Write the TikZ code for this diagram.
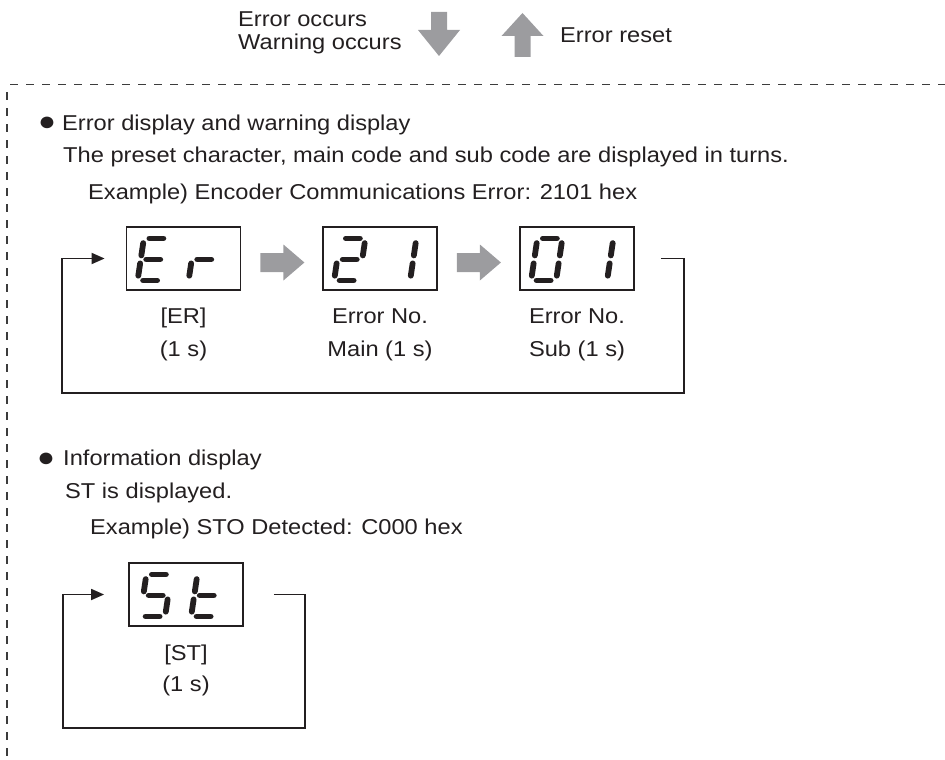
\documentclass[tikz,border=0pt]{standalone}
\usepackage{fontspec}
\setmainfont{Liberation Sans}[FakeStretch=1.1]
\usetikzlibrary{calc,arrows.meta}
\definecolor{ink}{RGB}{35,31,32}
\definecolor{arrowgray}{RGB}{156,156,159}
\definecolor{dashgray}{RGB}{60,60,60}
\tikzset{
  seg/.style={line width=5.8pt, line cap=round, draw=ink},
  dispbox/.style={draw=ink, line width=1.8pt, minimum width=114pt, minimum height=63pt, inner sep=0pt},
  txt/.style={inner sep=0pt, anchor=base west, text=ink, font=\fontsize{21.5}{26}\selectfont},
  ctxt/.style={inner sep=0pt, anchor=base, text=ink, font=\fontsize{21.5}{26}\selectfont},
  bul/.style={inner sep=0pt, anchor=center, text=ink, font=\fontsize{27}{27}\selectfont},
  loopline/.style={draw=ink, line width=1.8pt, -{Triangle[length=13pt,width=11pt]}},
  frameline/.style={draw=dashgray, line width=1.6pt, dash pattern=on 8pt off 8pt},
  blockarrow/.style={fill=arrowgray},
}
\newcommand\svnA{\draw[seg] (5.5,-42) -- (19.5,-42);}
\newcommand\svnG{\draw[seg] (5.5,-21) -- (19.5,-21);}
\newcommand\svnD{\draw[seg] (5.5,0) -- (19.5,0);}
\newcommand\svnF{\draw[seg] (0,-37.3) -- (0,-25);}
\newcommand\svnE{\draw[seg] (0,-17) -- (0,-4.7);}
\newcommand\svnB{\draw[seg] (25,-37.3) -- (25,-25);}
\newcommand\svnC{\draw[seg] (25,-17) -- (25,-4.7);}
\newcommand\svdigit[2]{\begin{scope}[shift={(#1)},xslant=0.15]\foreach \s in {#2}{\csname svn\s\endcsname}\end{scope}}
\newcommand\blockright[1]{\fill[blockarrow] (#1) ++(0,-9.5) -- ++(23,0) -- ++(0,-8.5) -- ++(21,18) -- ++(-21,18) -- ++(0,-8.5) -- ++(-23,0) -- cycle;}
\begin{document}
\begin{tikzpicture}[x=1pt,y=-1pt]
\useasboundingbox (0,0) rectangle (945,760);
% header
\node[txt] (occ1) at (238,27) {Error occurs};
\node[txt] (occ2) at (238,49) {Warning occurs};
\fill[blockarrow] (431,12) -- (447,12) -- (447,30) -- (460,30) -- (439,56) -- (418,30) -- (431,30) -- cycle;
\fill[blockarrow] (514.5,57) -- (530.5,57) -- (530.5,36) -- (543.5,36) -- (522.5,13) -- (501.5,36) -- (514.5,36) -- cycle;
\node[txt] (reset) at (560,43) {Error reset};
% frame
\draw[frameline] (10,84.5) -- (945,84.5);
\draw[frameline] (7,92) -- (7,760);
% section 1
\node[bul] (b1) at (47,124) {●};
\node[txt] (h1) at (62,130) {Error display and warning display};
\node[txt] (d1) at (63,162.5) {The preset character, main code and sub code are displayed in turns.};
\node[txt] (e1) at (88,199.5) {Example) Encoder Communications Error: 2101 hex};
\node[dispbox] (er) at (183.5,258.5) {};
\node[dispbox] (main) at (380,258.5) {};
\node[dispbox] (sub) at (577,258.5) {};
\coordinate (er1) at ($(er.south west)+(12,-10.5)$);
\coordinate (er2) at ($(er1)+(51,0)$);
\coordinate (mn1) at ($(main.south west)+(12,-10.5)$);
\coordinate (mn2) at ($(mn1)+(51,0)$);
\coordinate (sb1) at ($(sub.south west)+(12,-10.5)$);
\coordinate (sb2) at ($(sb1)+(51,0)$);
\svdigit{er1}{A,D,E,F,G}
\svdigit{er2}{E,G}
\svdigit{mn1}{A,B,G,E,D}
\svdigit{mn2}{B,C}
\svdigit{sb1}{A,B,C,D,E,F}
\svdigit{sb2}{B,C}
\blockright{$(er.east)+(19,4)$}
\blockright{$(main.east)+(19,4)$}
\node[ctxt] (erl1) at ($(er.south)+(0,32.5)$) {[ER]};
\node[ctxt] (erl2) at ($(er.south)+(0,65.5)$) {(1 s)};
\node[ctxt] (mnl1) at ($(main.south)+(0,32.5)$) {Error No.};
\node[ctxt] (mnl2) at ($(main.south)+(0,65.5)$) {Main (1 s)};
\node[ctxt] (sbl1) at ($(sub.south)+(0,32.5)$) {Error No.};
\node[ctxt] (sbl2) at ($(sub.south)+(0,65.5)$) {Sub (1 s)};
\coordinate (l1s) at ($(sub.east)+(26,0)$);
\coordinate (l1e) at ($(er.west)+(-21,0)$);
\draw[loopline] (l1s) -- ++(23,0) -- ++(0,134.5) -| ($(er.west)+(-63.5,0)$) -- (l1e);
% section 2
\node[bul] (b2) at (46,460) {●};
\node[txt] (h2) at (63,465.5) {Information display};
\node[txt] (d2) at (65,498) {ST is displayed.};
\node[txt] (e2) at (90,534.5) {Example) STO Detected: C000 hex};
\node[dispbox] (st) at (186,594.5) {};
\coordinate (st1) at ($(st.south west)+(12,-10.5)$);
\coordinate (st2) at ($(st1)+(51,0)$);
\svdigit{st1}{A,F,G,C,D}
\svdigit{st2}{F,E,G,D}
\node[ctxt] (stl1) at ($(st.south)+(0,33.5)$) {[ST]};
\node[ctxt] (stl2) at ($(st.south)+(0,64.5)$) {(1 s)};
\coordinate (l2s) at ($(st.east)+(30,0)$);
\coordinate (l2e) at ($(st.west)+(-24,0)$);
\draw[loopline] (l2s) -- ++(31,0) -- ++(0,133.5) -| ($(st.west)+(-65,0)$) -- (l2e);
\end{tikzpicture}
\end{document}
